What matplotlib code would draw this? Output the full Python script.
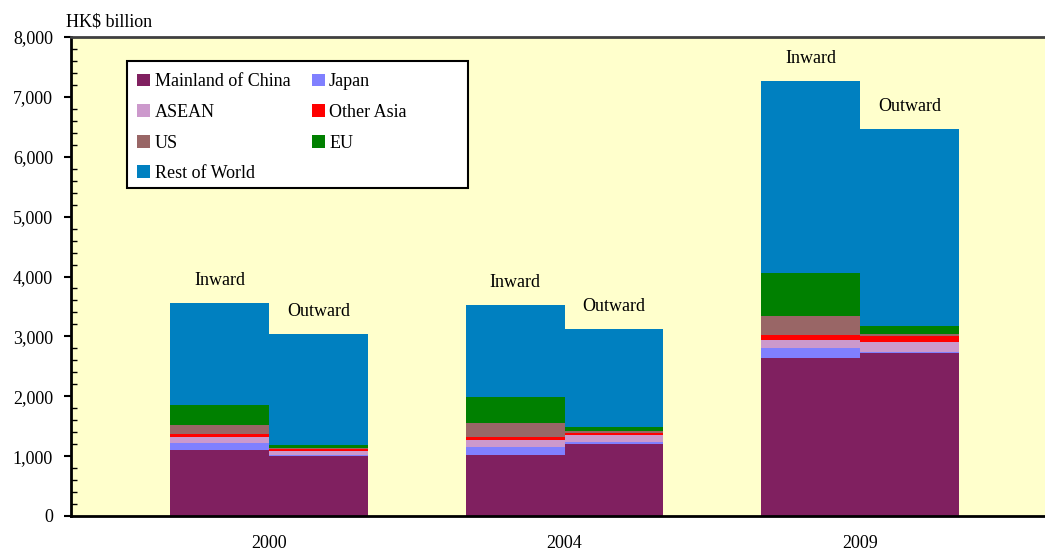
import numpy as np
import matplotlib
matplotlib.use("Agg")
import matplotlib.pyplot as plt
from matplotlib.patches import Rectangle, Patch
from matplotlib.ticker import MultipleLocator, FuncFormatter

plt.rcParams['font.family'] = ['Liberation Serif', 'DejaVu Serif']

years = ['2000', '2004', '2009']
regions = ['Mainland of China', 'Japan', 'ASEAN', 'Other Asia', 'US', 'EU', 'Rest of World']
colors = ['#802060', '#8080FF', '#CC99CC', '#FF0000', '#996666', '#008000', '#0080C0']

# HK$ billion, stacked in the order of `regions`
mainland_in = [1100, 1020, 2640]
japan_in = [120, 135, 165]
asean_in = [100, 115, 135]
other_asia_in = [50, 50, 85]
us_in = [150, 235, 320]
eu_in = [335, 435, 715]
rest_in = [1705, 1535, 3210]

mainland_out = [1000, 1205, 2720]
japan_out = [20, 30, 25]
asean_out = [65, 115, 160]
other_asia_out = [35, 35, 100]
us_out = [15, 35, 35]
eu_out = [50, 65, 135]
rest_out = [1855, 1640, 3290]

inward = [mainland_in, japan_in, asean_in, other_asia_in, us_in, eu_in, rest_in]
outward = [mainland_out, japan_out, asean_out, other_asia_out, us_out, eu_out, rest_out]

fig = plt.figure(figsize=(10.45, 5.54), dpi=100)
ax = fig.add_axes([71/1045, 1 - 516/554, 1 - 71/1045, (516 - 37)/554])
ax.set_facecolor('#FFFFCC')

x = np.arange(len(years))
w = 0.335


def stack(series, xpos):
    bottom = np.zeros(len(years))
    for vals, c in zip(series, colors):
        ax.bar(xpos, vals, w, bottom=bottom, color=c, align='edge', linewidth=0)
        bottom += np.array(vals)
    return bottom


tot_in = stack(inward, x - w)
tot_out = stack(outward, x)

for i in range(len(years)):
    ax.annotate('Inward', (x[i] - w / 2, tot_in[i]), xytext=(0, 10),
                textcoords='offset points', ha='center', va='bottom', fontsize=13)
    ax.annotate('Outward', (x[i] + w / 2, tot_out[i]), xytext=(0, 10),
                textcoords='offset points', ha='center', va='bottom', fontsize=13)

ax.set_xlim(-0.67, 2.626)
ax.set_ylim(0, 8000)
ax.set_xticks(x)
ax.set_xticklabels(years, fontsize=13)
ax.tick_params(axis='x', length=0, pad=14)
ax.yaxis.set_major_locator(MultipleLocator(1000))
ax.yaxis.set_minor_locator(MultipleLocator(200))
ax.yaxis.set_major_formatter(FuncFormatter(lambda v, p: f'{int(v):,}'))
ax.tick_params(axis='y', which='major', direction='out', length=5, width=1.5,
               labelsize=13, pad=8)
ax.tick_params(axis='y', which='minor', direction='in', length=4, width=1)

ax.spines['right'].set_visible(False)
ax.spines['top'].set_color('#404040')
ax.spines['top'].set_linewidth(2)
ax.spines['left'].set_linewidth(2)
ax.spines['bottom'].set_linewidth(2)

fig.text(66/1045, 1 - 22/554, 'HK$ billion', fontsize=13, ha='left', va='center')

# legend box, row-major order in two columns
box = Rectangle((127/1045, 1 - 188/554), (468 - 127)/1045, (188 - 61)/554,
                transform=fig.transFigure, facecolor='white', edgecolor='black',
                linewidth=1.5, zorder=4)
ax.add_artist(box)
order = [0, 2, 4, 6, 1, 3, 5]
handles = [Patch(facecolor=colors[k], label=regions[k]) for k in order]
ax.legend(handles=handles, ncol=2, loc='upper left', frameon=False,
          bbox_to_anchor=(123/1045, 1 - 59/554), bbox_transform=fig.transFigure,
          fontsize=13, handlelength=0.7, handleheight=0.7, handletextpad=0.25,
          columnspacing=1.2, labelspacing=0.75, borderpad=0.3)

fig.savefig('out.png', dpi=100)
